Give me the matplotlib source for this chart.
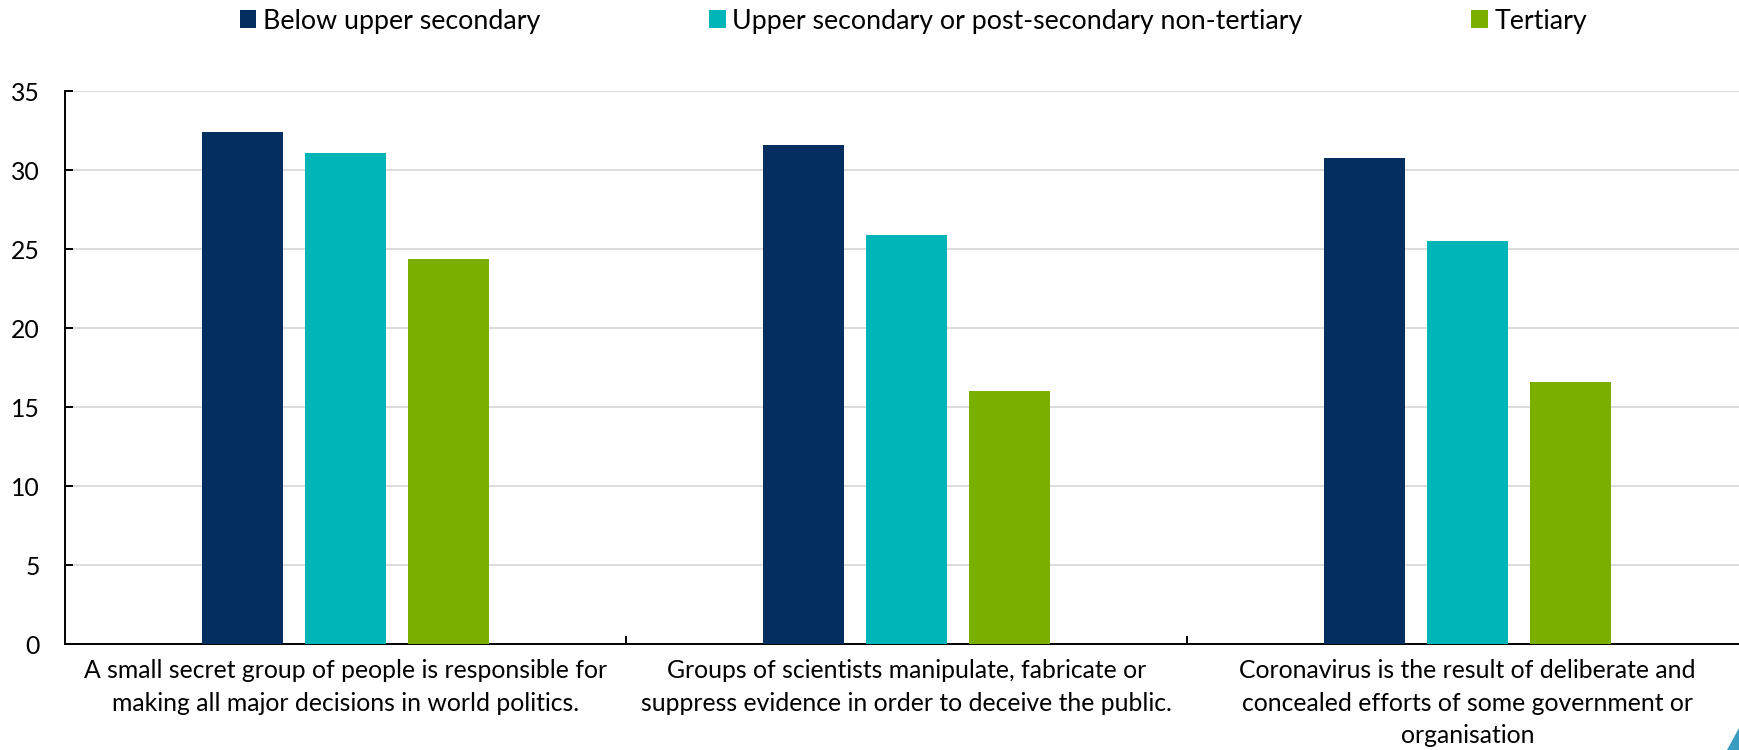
import matplotlib
matplotlib.use("Agg")
import matplotlib.pyplot as plt
from matplotlib.patches import Patch, Polygon
import numpy as np

categories = [
    "A small secret group of people is responsible for\nmaking all major decisions in world politics.",
    "Groups of scientists manipulate, fabricate or\nsuppress evidence in order to deceive the public.",
    "Coronavirus is the result of deliberate and\nconcealed efforts of some government or\norganisation",
]
series_names = ["Below upper secondary",
                "Upper secondary or post-secondary non-tertiary",
                "Tertiary"]
below_upper_secondary = [32.4, 31.6, 30.8]
upper_secondary = [31.1, 25.9, 25.5]
tertiary = [24.4, 16.0, 16.6]
y_ticks = [0, 5, 10, 15, 20, 25, 30, 35]

colors = ["#032E5F", "#00B5B8", "#7AAF00"]

plt.rcParams['font.family'] = ['Lato', 'DejaVu Sans']
FS = 17.8
FS_LEG = 19.3

W, H = 1739, 750
fig = plt.figure(figsize=(W / 100, H / 100), dpi=100)
ax = fig.add_axes([65 / W, (750 - 644) / H, (1748 - 65) / W, (644 - 91.3) / H])

x = np.arange(len(categories))
bw = 0.1444
off = 0.1836
for i, (vals, c) in enumerate(zip([below_upper_secondary, upper_secondary, tertiary], colors)):
    ax.bar(x + (i - 1) * off, vals, width=bw, color=c, zorder=3, label=series_names[i])

ax.set_xlim(-0.5, 2.5)
ax.set_ylim(0, 35)
ax.set_yticks(y_ticks)
ax.yaxis.grid(True, color="#D9D9D9", linewidth=1.3, zorder=0)
ax.set_axisbelow(True)

for s in ["top", "right"]:
    ax.spines[s].set_visible(False)
for s in ["left", "bottom"]:
    ax.spines[s].set_color("black")
    ax.spines[s].set_linewidth(1.4)

ax.tick_params(axis="y", direction="in", length=6, width=1.4, labelsize=FS, pad=18, colors="black")
ax.set_xticks([0.5, 1.5])
ax.set_xticklabels([])
ax.tick_params(axis="x", which="major", direction="in", length=6, width=1.4)
ax.set_xticks(x, minor=True)
ax.set_xticklabels(categories, minor=True, fontsize=FS, linespacing=1.49)
ax.tick_params(axis="x", which="minor", length=0, pad=11)

handles = [Patch(facecolor=c, edgecolor="none") for c in colors]
fig.legend(handles, series_names, loc="center", bbox_to_anchor=(913.5 / W, 1 - 21 / H),
           ncol=3, frameon=False, fontsize=FS_LEG, handlelength=0.62, handleheight=0.62,
           handletextpad=0.25, columnspacing=6.3, borderaxespad=0, borderpad=0)

tri = Polygon([[1727 / W, 0], [1739 / W, 22 / H], [1739 / W, 0]], closed=True,
              transform=fig.transFigure, facecolor="#3A9CC0", edgecolor="none")
fig.patches.append(tri)

fig.savefig("out.png", dpi=100)
